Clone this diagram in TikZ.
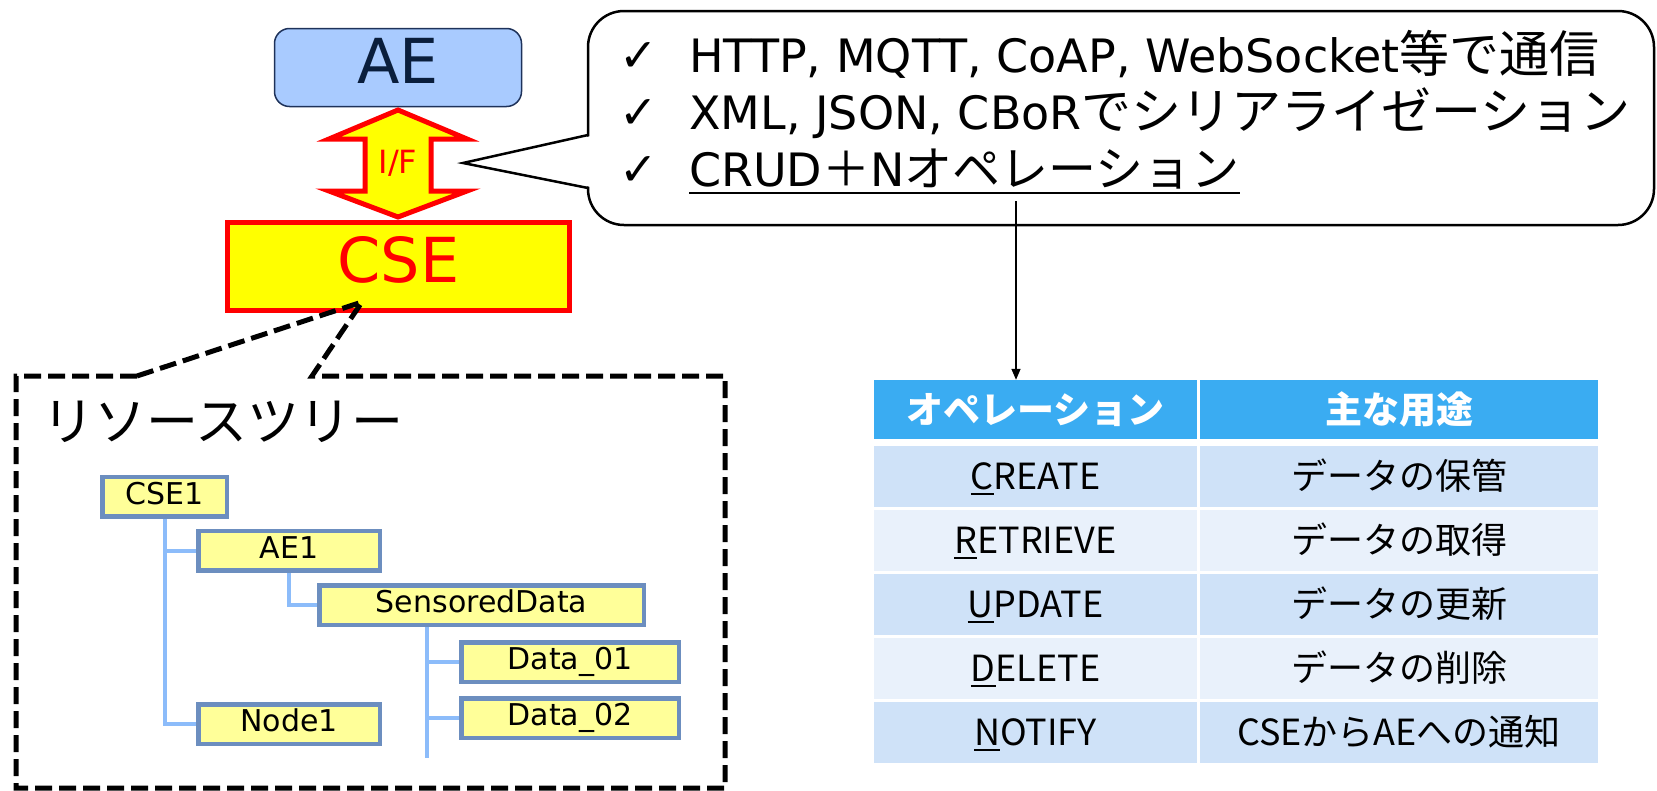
\documentclass[tikz,border=0pt]{standalone}
\usepackage{fontspec}
\setmainfont{DejaVu Sans}
\newfontfamily\jp{Noto Sans CJK JP}
\usetikzlibrary{arrows.meta,backgrounds}

\definecolor{aefill}{RGB}{169,203,255}
\definecolor{aeline}{RGB}{30,50,90}
\definecolor{aetext}{RGB}{10,30,60}
\definecolor{cseyellow}{RGB}{255,255,0}
\definecolor{csered}{RGB}{255,0,0}
\definecolor{treefill}{RGB}{255,255,153}
\definecolor{treeedge}{RGB}{108,142,191}
\definecolor{treelinkcol}{RGB}{140,188,250}
\definecolor{hdrblue}{RGB}{58,172,242}
\definecolor{rowdark}{RGB}{207,226,248}
\definecolor{rowlight}{RGB}{233,241,251}

% font size helper (size = leading)
\newcommand\fsz[1]{\fontsize{#1}{#1}\selectfont}
% underline of the initial letter of an operation name
\newcommand\opul[1]{\setbox0\hbox{#1}\rlap{\rule[-6pt]{\wd0}{2pt}}\box0}

\begin{document}
\begin{tikzpicture}[x=1pt,y=-1pt,
  treebox/.style={draw=treeedge, line width=4.5pt, fill=treefill, inner sep=0pt,
                  minimum height=39.5pt, text height=22pt, text depth=7pt, font=\fsz{30}},
  linkline/.style={draw=treelinkcol, line width=4pt},
  cell/.style={inner sep=0pt, minimum height=61pt, text height=25pt, text depth=0pt,
               font=\jp\fsz{36}},
  hdrcell/.style={inner sep=0pt, minimum height=59pt, fill=hdrblue, text=white,
                  text height=33pt, text depth=6pt, font=\jp\bfseries\fsz{37}},
  bubbletext/.style={anchor=base west, inner sep=0pt, font=\fsz{46}},
  tick/.style={anchor=base west, inner sep=0pt, font=\fsz{46}},
]
\useasboundingbox (0,0) rectangle (1657,790);

% ---- AE, interface arrow, CSE ----
\node[draw=aeline, fill=aefill, line width=1.5pt, rounded corners=15pt,
      minimum width=247pt, minimum height=78pt, inner sep=0pt,
      text=aetext, font=\fsz{62}, text height=46pt, text depth=15pt] (ae) at (398,67.5) {AE};

\draw[draw=csered, line width=5pt, fill=cseyellow, line join=miter]
  (398,110) -- (467,139) -- (431,139) -- (431,191) -- (467,191) -- (398,217)
  -- (329,191) -- (365,191) -- (365,139) -- (329,139) -- cycle;
\node[text=csered, font=\fsz{32}, inner sep=0pt, anchor=base] (if) at (398,173) {I/F};

\node[draw=csered, fill=cseyellow, line width=5pt, minimum width=342pt,
      minimum height=88pt, inner sep=0pt, text=csered, font=\fsz{62},
      text height=47pt, text depth=16pt] (cse) at (398.5,266.5) {CSE};

% ---- speech bubble with protocol notes ----
\draw[line width=2.5pt, fill=white, rounded corners=36pt] (588,11) rectangle (1654,225);
\fill[white] (591,136) -- (464,163) -- (591,187) -- cycle;
\draw[line width=2.5pt, line join=miter] (588,135) -- (463,163) -- (588,188);

\node[tick] (t1) at (619,71) {✓};
\node[tick] (t2) at (619,128) {✓};
\node[tick] (t3) at (619,185) {✓};

\node[bubbletext] (l1) at (689,72) {HTTP, MQTT, CoAP, WebSocket{\jp\fsz{50}等で通信}};
\node[bubbletext] (l2) at (689,129) {XML, JSON, CBoR{\jp\fsz{50}でシリアライゼーション}};
\node[bubbletext] (l3) at (689,186) {CRUD{\jp\fsz{48}＋}N{\jp\fsz{48}オペレーション}};
\draw[line width=2.5pt] ([yshift=-7pt]l3.base west) -- ([yshift=-7pt]l3.base east);

% ---- resource tree frame pointing at the CSE ----
\draw[line width=5pt, dash pattern=on 17pt off 7pt]
  (137,376) -- (16,376) -- (16,788) -- (725,788) -- (725,376) -- (312,376)
  -- (362,302) -- cycle;
\node[anchor=base west, inner sep=0pt, font=\jp\fsz{52}] (rt) at (42,440) {リソースツリー};

% ---- resource tree ----
\node[treebox, minimum width=124.5pt] (cse1)   at (164.5,496.5) {CSE1};
\node[treebox, minimum width=181.5pt] (ae1)    at (289,550.5)   {AE1};
\node[treebox, minimum width=324.5pt] (sdata)  at (481.5,605)   {SensoredData};
\node[treebox, minimum width=217.5pt] (data01) at (570,662)     {Data\_01};
\node[treebox, minimum width=217.5pt] (data02) at (570,718)     {Data\_02};
\node[treebox, minimum width=181.5pt] (node1)  at (289,724)     {Node1};

\begin{scope}[on background layer]
  \draw[linkline] (cse1.south) |- (ae1.west);
  \draw[linkline] (cse1.south) |- (node1.west);
  \draw[linkline] (ae1.south) |- (sdata.west);
  \coordinate (stem) at ([xshift=-32pt]data01.west |- sdata.south);
  \draw[linkline] (stem) -- ++(0,131);
  \draw[linkline] ([xshift=-2pt]stem |- data01.west) -- (data01.west);
  \draw[linkline] ([xshift=-2pt]stem |- data02.west) -- (data02.west);
\end{scope}

% ---- operations table ----
\node[hdrcell, minimum width=323pt] (h1) at (1035.5,409.5) {オペレーション};
\node[hdrcell, minimum width=398pt] (h2) at (1399,409.5) {主な用途};

\node[cell, fill=rowdark,  minimum width=323pt] (c11) at (1035.5,476.5) {\opul{C}REATE};
\node[cell, fill=rowdark,  minimum width=398pt] (c12) at (1399,476.5)   {データの保管};
\node[cell, fill=rowlight, minimum width=323pt] (c21) at (1035.5,540.5) {\opul{R}ETRIEVE};
\node[cell, fill=rowlight, minimum width=398pt] (c22) at (1399,540.5)   {データの取得};
\node[cell, fill=rowdark,  minimum width=323pt] (c31) at (1035.5,604.5) {\opul{U}PDATE};
\node[cell, fill=rowdark,  minimum width=398pt] (c32) at (1399,604.5)   {データの更新};
\node[cell, fill=rowlight, minimum width=323pt] (c41) at (1035.5,668.5) {\opul{D}ELETE};
\node[cell, fill=rowlight, minimum width=398pt] (c42) at (1399,668.5)   {データの削除};
\node[cell, fill=rowdark,  minimum width=323pt] (c51) at (1035.5,732.5) {\opul{N}OTIFY};
\node[cell, fill=rowdark,  minimum width=398pt] (c52) at (1399,732.5)   {CSEからAEへの通知};

% ---- link from the CRUD+N note to the table ----
\coordinate (opsrc) at (1016,201);
\draw[line width=1.5pt, -{Triangle[length=11pt,width=9pt]}] (opsrc) -- (opsrc |- h1.north);
\end{tikzpicture}
\end{document}
